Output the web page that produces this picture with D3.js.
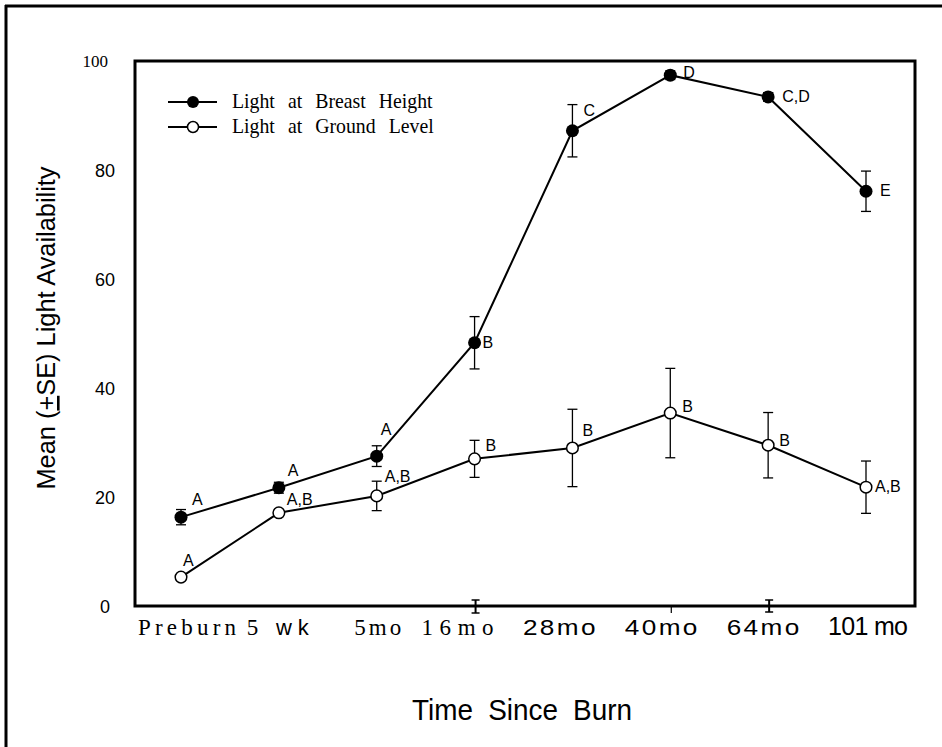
<!DOCTYPE html>
<html>
<head>
<meta charset="utf-8">
<script src="https://cdn.jsdelivr.net/npm/d3@7/dist/d3.min.js"></script>
<style>
  html, body { margin: 0; padding: 0; background: #fff; }
  svg { display: block; }
</style>
</head>
<body>
<div id="chart"></div>
<script>
// ---------- data ----------
const categories = ["Preburn", "5 wk", "5mo", "16mo", "28mo", "40mo", "64mo", "101 mo"];
const breastMean = [16.3, 21.7, 27.5, 48.3, 87.2, 97.4, 93.4, 76.1];
const breastSE   = [1.4, 1.0, 1.9, 4.8, 4.8, 0.8, 0.8, 3.7];
const breastSig  = ["A", "A", "A", "B", "C", "D", "C,D", "E"];
const groundMean = [5.3, 17.1, 20.2, 27.0, 29.0, 35.4, 29.5, 21.8];
const groundSE   = [0.5, 0.5, 2.7, 3.4, 7.1, 8.2, 6.0, 4.8];
const groundSig  = ["A", "A,B", "A,B", "B", "B", "B", "B", "A,B"];
const yTicks = [0, 20, 40, 60, 80, 100];
const seriesNames = ["Light at Breast Height", "Light at Ground Level"];
const yTitle = "Mean (+SE) Light Availability";
const xTitle = "Time Since Burn";

// ---------- layout ----------
const W = 942, H = 747;
const plot = { left: 135, right: 915, top: 61, bottom: 606 };
const SERIF = "'Liberation Serif', 'Times New Roman', serif";
const SANS = "'Liberation Sans', Arial, sans-serif";
const NARROW = "'Liberation Sans Narrow', 'Liberation Sans', Arial, sans-serif";

const svg = d3.select("#chart").append("svg").attr("width", W).attr("height", H);

const x = d3.scalePoint().domain(categories).range([181, 866]);
const y = d3.scaleLinear().domain([0, 100]).range([plot.bottom, plot.top]);

// outer frame (top and left)
svg.append("line").attr("x1", 5).attr("x2", W).attr("y1", 6).attr("y2", 6)
  .attr("stroke", "#000").attr("stroke-width", 3);
svg.append("line").attr("x1", 6).attr("x2", 6).attr("y1", 5).attr("y2", H)
  .attr("stroke", "#000").attr("stroke-width", 3);

// plot frame
svg.append("rect")
  .attr("x", plot.left).attr("y", plot.top)
  .attr("width", plot.right - plot.left).attr("height", plot.bottom - plot.top)
  .attr("fill", "none").attr("stroke", "#000").attr("stroke-width", 3);

// y axis labels (no tick marks)
const yAxis = d3.axisLeft(y).tickValues(yTicks).tickSize(0).tickPadding(0)
  .tickFormat(d3.format("d"));
const gy = svg.append("g").attr("transform", `translate(${plot.left - 20},0)`).call(yAxis);
gy.select(".domain").remove();
gy.selectAll("text")
  .attr("fill", "#000")
  .style("font-family", d => d === 100 ? SERIF : SANS)
  .style("font-size", d => d === 100 ? "17px" : "18px")
  .attr("dx", d => d === 100 ? -7 : (d === 0 ? -5 : 0))
  .attr("dy", "0.35em");

// x axis labels
const xLabelStyle = {
  "Preburn": { font: SERIF, size: 23, w: 98, dx: 6,   adj: "spacing" },
  "5 wk":    { font: SERIF, size: 23, w: 62, dx: -1,  adj: "spacing" },
  "5mo":     { font: SERIF, size: 23, w: 47, dx: 1,   adj: "spacing" },
  "16mo":    { font: SERIF, size: 23, w: 72, dx: -17, adj: "spacing" },
  "28mo":    { font: SANS, size: 22, w: 75, dx: -12,  adj: "spacingAndGlyphs", ls: 2 },
  "40mo":    { font: SANS, size: 22, w: 75, dx: -8,   adj: "spacingAndGlyphs", ls: 2 },
  "64mo":    { font: SANS, size: 22, w: 75, dx: -4,   adj: "spacingAndGlyphs", ls: 2 },
  "101 mo":  { font: NARROW, size: 25, w: 80, dx: 2,  adj: "spacing" }
};
const gx = svg.append("g");
categories.forEach(c => {
  const s = xLabelStyle[c];
  const t = gx.append("text")
    .attr("x", x(c) + s.dx).attr("y", 635)
    .attr("text-anchor", "middle")
    .attr("textLength", s.w).attr("lengthAdjust", s.adj)
    .style("font-family", s.font).style("font-size", s.size + "px")
    .style("letter-spacing", (s.ls || 0) + "px")
    .attr("fill", "#000");
  if (c === "5 wk") {
    t.append("tspan").text("5 ");
    t.append("tspan").style("font-family", SANS).style("font-size", "22px").text("wk");
  } else {
    t.text(c);
  }
});

// odd little tick marks on the x axis
[["16mo", 13, true], ["40mo", 7, false], ["64mo", 12, true]].forEach(([c, h, cap]) => {
  const cx = x(c) + 1;
  const y0 = plot.bottom - (cap ? 6 : 0), y1 = y0 + h;
  svg.append("line").attr("x1", cx).attr("x2", cx).attr("y1", y0).attr("y2", y1)
    .attr("stroke", "#000").attr("stroke-width", cap ? 2 : 1.2);
  if (cap) {
    [y0, y1].forEach(yy => svg.append("line").attr("x1", cx - 4).attr("x2", cx + 4)
      .attr("y1", yy).attr("y2", yy).attr("stroke", "#000").attr("stroke-width", 1.5));
  }
});

// axis titles
const yt = svg.append("text")
  .attr("transform", `translate(55,${328}) rotate(-90)`)
  .attr("text-anchor", "middle")
  .attr("textLength", 323).attr("lengthAdjust", "spacingAndGlyphs")
  .style("font-family", SANS).style("font-size", "26px").attr("fill", "#000");
yt.append("tspan").text("Mean (");
yt.append("tspan").style("text-decoration", "underline").text("+");
yt.append("tspan").text("SE) Light Availability");

svg.append("text")
  .attr("x", 522).attr("y", 720).attr("text-anchor", "middle")
  .attr("textLength", 220).attr("lengthAdjust", "spacingAndGlyphs")
  .style("font-family", SANS).style("font-size", "30px").style("word-spacing", "8px")
  .attr("fill", "#000").text(xTitle);

// series
const series = [
  { mean: breastMean, se: breastSE, sig: breastSig, filled: true,
    off: [[11,-12],[9,-12],[4,-21],[8,5],[11,-15],[13,3],[14,5],[14,5]] },
  { mean: groundMean, se: groundSE, sig: groundSig, filled: false,
    off: [[2,-11],[8,-8],[8,-14],[11,-8],[10,-12],[12,-1],[11,1],[9,5]] }
];
const line = d3.line().x((d, i) => x(categories[i])).y(d => y(d));
const R = 6.5;

series.forEach(s => {
  const g = svg.append("g");
  g.append("path").datum(s.mean).attr("d", line)
    .attr("fill", "none").attr("stroke", "#000").attr("stroke-width", 2);
  // error bars
  s.mean.forEach((m, i) => {
    const cx = x(categories[i]);
    const top = y(m + s.se[i]), bot = y(m - s.se[i]);
    g.append("line").attr("x1", cx).attr("x2", cx).attr("y1", top).attr("y2", bot)
      .attr("stroke", "#000").attr("stroke-width", 1.3);
    [top, bot].forEach(yy => g.append("line").attr("x1", cx - 5).attr("x2", cx + 5)
      .attr("y1", yy).attr("y2", yy).attr("stroke", "#000").attr("stroke-width", 1.3));
  });
  // markers
  g.selectAll("circle").data(s.mean).join("circle")
    .attr("cx", (d, i) => x(categories[i])).attr("cy", d => y(d))
    .attr("r", s.filled ? R : R - 0.7)
    .attr("fill", s.filled ? "#000" : "#fff")
    .attr("stroke", "#000").attr("stroke-width", s.filled ? 0 : 1.5);
  // significance letters
  g.selectAll("text.sig").data(s.sig).join("text").attr("class", "sig")
    .attr("x", (d, i) => x(categories[i]) + s.off[i][0])
    .attr("y", (d, i) => y(s.mean[i]) + s.off[i][1])
    .style("font-family", SANS).style("font-size", "16px").attr("fill", "#000")
    .text(d => d);
});

// legend
const legend = svg.append("g");
seriesNames.forEach((name, i) => {
  const ly = 102 + i * 25;
  legend.append("line").attr("x1", 168).attr("x2", 217).attr("y1", ly).attr("y2", ly)
    .attr("stroke", "#000").attr("stroke-width", 2);
  legend.append("circle").attr("cx", 193).attr("cy", ly).attr("r", i === 0 ? 6 : 5.5)
    .attr("fill", i === 0 ? "#000" : "#fff").attr("stroke", "#000")
    .attr("stroke-width", i === 0 ? 0 : 1.5);
  legend.append("text")
    .attr("transform", `translate(232,${ly + 6}) scale(0.9,1)`)
    .style("font-family", SERIF).style("font-size", "22px").style("word-spacing", "9px")
    .attr("fill", "#000").text(name);
});
</script>
</body>
</html>
